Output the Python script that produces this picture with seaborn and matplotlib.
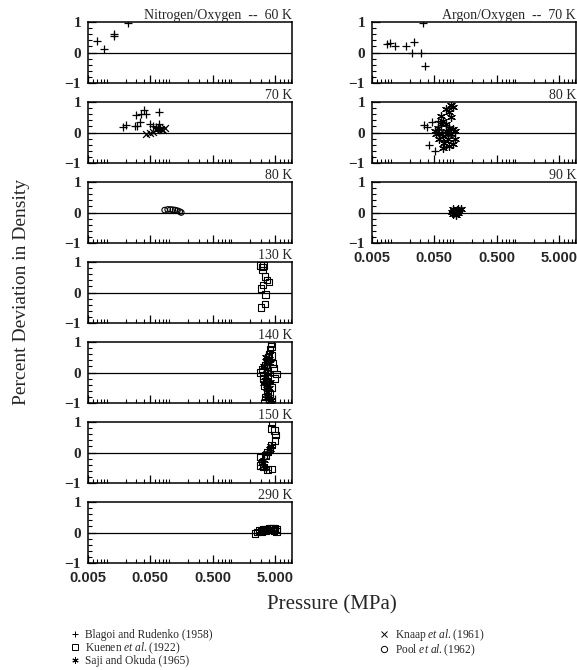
import numpy as np
import pandas as pd
import matplotlib
matplotlib.use('Agg')
import matplotlib.pyplot as plt
from matplotlib.lines import Line2D
from matplotlib.ticker import FixedLocator, LogLocator, NullFormatter, FixedFormatter
import seaborn as sns

sns.set_theme(style='white')
plt.rcParams['font.family'] = ['Liberation Serif', 'DejaVu Serif']
plt.rcParams['mathtext.fontset'] = 'custom'
plt.rcParams['mathtext.it'] = 'Liberation Serif:italic'
plt.rcParams['mathtext.rm'] = 'Liberation Serif'

sources = ['Blagoi and Rudenko (1958)', 'Kuenen $\\it{et\\ al.}$(1922)', 'Saji and Okuda (1965)',
           'Knaap $\\it{et\\ al.}$(1961)', 'Pool $\\it{et\\ al.}$(1962)']
BR, KU, SO, KN, PO = sources

# (system, temperature) panels, left column then right column
panels_left = ['60 K', '70 K', '80 K', '130 K', '140 K', '150 K', '290 K']
panels_right = ['70 K', '80 K', '90 K']

# --- Nitrogen/Oxygen ---
n60_br_p = [0.0069, 0.009, 0.013, 0.013, 0.022]
n60_br_d = [0.38, 0.11, 0.55, 0.60, 0.96]

n70_br_p = [0.0183, 0.0202, 0.0281, 0.0299, 0.031, 0.0337, 0.0359, 0.039, 0.0432, 0.0487, 0.0551, 0.0687, 0.0623, 0.0687]
n70_br_d = [0.19, 0.24, 0.20, 0.57, 0.22, 0.33, 0.60, 0.74, 0.60, 0.27, 0.20, 0.66, 0.17, 0.27]
n70_kn_p = [0.0432, 0.0487, 0.0551, 0.0623, 0.0748, 0.0845, 0.080]
n70_kn_d = [-0.05, -0.03, 0.02, 0.09, 0.11, 0.15, 0.09]
n70_so_p = [0.066, 0.071]
n70_so_d = [0.10, 0.13]

n80_po_p = [0.085, 0.095, 0.105, 0.115, 0.125, 0.136, 0.148, 0.157]
n80_po_d = [0.08, 0.10, 0.10, 0.09, 0.08, 0.06, 0.03, 0.00]

n130_ku_p = [2.94, 3.14, 3.30, 3.14, 3.45, 3.75, 4.00, 3.20, 3.00, 3.50, 3.45, 2.98]
n130_ku_d = [0.88, 0.83, 0.88, 0.74, 0.52, 0.41, 0.35, 0.24, 0.13, -0.06, -0.37, -0.50]

n140_ku_p = [4.3, 4.4, 4.2, 4.0, 3.9, 4.5, 3.7, 4.6, 3.5, 3.1, 2.95, 3.3, 5.3, 4.9, 3.6, 3.4,
             3.8, 4.1, 3.5, 4.0, 4.4, 3.2, 4.7, 3.9]
n140_ku_d = [0.95, 0.85, 0.75, 0.60, 0.50, 0.55, 0.40, 0.30, 0.25, 0.10, 0.00, -0.10, -0.05, -0.20, -0.30, -0.45,
             -0.60, -0.70, -0.80, -0.90, -0.50, -0.20, 0.15, 0.05]
n140_so_p = [3.6, 3.8, 3.4, 3.7, 3.9, 3.5, 3.6, 3.8, 4.0, 3.7, 3.9, 4.2, 4.4, 3.6, 4.1, 4.0, 3.3, 4.2]
n140_so_d = [0.50, 0.35, 0.20, 0.10, -0.05, -0.15, -0.25, -0.40, -0.50, -0.65, -0.80, -0.95, -0.90, -0.85, 0.30, 0.45, -0.35, -0.30]

n150_ku_p = [4.5, 4.4, 4.9, 5.1, 5.0, 4.4, 4.2, 3.8, 3.5, 2.9, 3.1, 2.9, 3.3, 4.5, 3.8]
n150_ku_d = [0.96, 0.78, 0.72, 0.57, 0.40, 0.24, 0.12, 0.01, -0.10, -0.15, -0.31, -0.42, -0.48, -0.54, -0.56]
n150_so_p = [4.3, 4.1, 3.8, 3.4, 3.1, 3.2, 3.6]
n150_so_d = [0.20, 0.10, -0.02, -0.25, -0.35, -0.45, -0.50]

n290_ku_p = [2.4, 2.6, 2.8, 3.0, 3.2, 3.4, 3.7, 4.0, 4.3, 4.6, 5.0, 5.4, 3.1, 3.6, 4.1, 4.8, 5.3]
n290_ku_d = [-0.03, 0.02, 0.06, 0.08, 0.10, 0.12, 0.12, 0.13, 0.14, 0.14, 0.13, 0.12, 0.03, 0.06, 0.08, 0.07, 0.04]
n290_so_p = [2.9, 3.3, 3.8, 4.2, 4.6]
n290_so_d = [0.05, 0.07, 0.09, 0.10, 0.10]

# --- Argon/Oxygen ---
a70_br_p = [0.0087, 0.0096, 0.0115, 0.0177, 0.024, 0.022, 0.0307, 0.0359, 0.0325]
a70_br_d = [0.28, 0.31, 0.22, 0.20, 0.33, -0.02, -0.02, -0.45, 0.97]

a80_br_p = [0.0346, 0.0377, 0.046, 0.058, 0.0406, 0.0506]
a80_br_d = [0.24, 0.19, 0.33, 0.37, -0.42, -0.61]
a80_so_p = [0.064, 0.0678, 0.077, 0.0857, 0.091, 0.098, 0.091, 0.0506, 0.0532, 0.060, 0.0678, 0.077,
            0.0857, 0.098, 0.106, 0.0815, 0.072, 0.0857, 0.098, 0.0678, 0.106, 0.058, 0.064, 0.077,
            0.091, 0.0815, 0.060]
a80_so_d = [0.55, 0.38, 0.77, 0.66, 0.90, 0.82, 0.50, 0.05, -0.06, 0.00, -0.11, 0.05,
            0.16, 0.11, 0.05, -0.22, -0.33, -0.44, -0.39, -0.50, -0.22, 0.16, 0.27, 0.27,
            -0.06, -0.06, -0.22]

a90_so_p = [0.095, 0.10, 0.105, 0.11, 0.115, 0.12, 0.125, 0.132, 0.10, 0.11, 0.12]
a90_so_d = [0.02, -0.04, 0.06, 0.00, 0.08, -0.03, 0.05, 0.12, 0.10, -0.08, 0.12]
a90_po_p = [0.097, 0.103, 0.108, 0.113, 0.118, 0.123]
a90_po_d = [0.00, 0.03, -0.02, 0.05, 0.01, 0.04]

rows = []
def add(system, temp, src, p, d):
    for pi, di in zip(p, d):
        rows.append((system, temp, src, pi, di))

add('N', '60 K', BR, n60_br_p, n60_br_d)
add('N', '70 K', BR, n70_br_p, n70_br_d)
add('N', '70 K', KN, n70_kn_p, n70_kn_d)
add('N', '70 K', SO, n70_so_p, n70_so_d)
add('N', '80 K', PO, n80_po_p, n80_po_d)
add('N', '130 K', KU, n130_ku_p, n130_ku_d)
add('N', '140 K', KU, n140_ku_p, n140_ku_d)
add('N', '140 K', SO, n140_so_p, n140_so_d)
add('N', '150 K', KU, n150_ku_p, n150_ku_d)
add('N', '150 K', SO, n150_so_p, n150_so_d)
add('N', '290 K', KU, n290_ku_p, n290_ku_d)
add('N', '290 K', SO, n290_so_p, n290_so_d)
add('A', '70 K', BR, a70_br_p, a70_br_d)
add('A', '80 K', BR, a80_br_p, a80_br_d)
add('A', '80 K', SO, a80_so_p, a80_so_d)
add('A', '90 K', SO, a90_so_p, a90_so_d)
add('A', '90 K', PO, a90_po_p, a90_po_d)
df = pd.DataFrame(rows, columns=['system', 'temp', 'source', 'pressure', 'deviation'])

asterisk = (6, 2, 0)
marker_style = {
    BR: dict(marker='+', s=30, linewidths=0.9),
    KU: dict(marker='s', s=22, facecolor='none', linewidths=0.8),
    SO: dict(marker=asterisk, s=32, linewidths=0.9),
    KN: dict(marker='x', s=24, linewidths=0.9),
    PO: dict(marker='o', s=16, facecolor='none', linewidths=0.8),
}

W, H = 577, 670
fig = plt.figure(figsize=(W / 100, H / 100), dpi=100)
tops = [22, 102, 182, 262, 342, 422, 502]
ph = 61

def make_ax(left_px, top_px):
    return fig.add_axes([left_px / W, 1 - (top_px + ph) / H, 204 / W, ph / H])

def style_ax(ax, title, show_x):
    ax.set_xscale('log')
    ax.set_xlim(0.005, 9.4)
    ax.set_ylim(-1, 1)
    ax.axhline(0, color='black', lw=0.9, zorder=1)
    ax.xaxis.set_major_locator(FixedLocator([0.005, 0.05, 0.5, 5]))
    ax.xaxis.set_minor_locator(LogLocator(base=10, subs=np.arange(1, 10)))
    ax.xaxis.set_minor_formatter(NullFormatter())
    if show_x:
        ax.xaxis.set_major_formatter(FixedFormatter(['0.005', '0.050', '0.500', '5.000']))
    else:
        ax.xaxis.set_major_formatter(NullFormatter())
    ax.yaxis.set_major_locator(FixedLocator([-1, 0, 1]))
    ax.yaxis.set_major_formatter(FixedFormatter(['\u22121', '0', '1']))
    ax.yaxis.set_minor_locator(FixedLocator(np.arange(-1, 1.01, 0.2)))
    ax.tick_params(axis='both', which='major', direction='in', length=6, width=0.9, color='black',
                   bottom=True, left=True, top=False, right=False)
    ax.tick_params(axis='both', which='minor', direction='in', length=3, width=0.8, color='black',
                   bottom=True, left=True, top=False, right=False)
    ax.tick_params(axis='x', which='major', pad=6)
    ax.tick_params(axis='y', which='major', pad=5)
    for lab in ax.get_xticklabels():
        lab.set_family('Liberation Sans')
        lab.set_fontweight('bold')
        lab.set_fontsize(10.5)
    for lab in ax.get_yticklabels():
        lab.set_fontweight('bold')
        lab.set_fontsize(11)
    for sp in ax.spines.values():
        sp.set_color('black')
        sp.set_linewidth(1.1)
    ax.set_title(title, loc='right', fontsize=10, pad=1.5)
    ax.set_xlabel('')
    ax.set_ylabel('')

def draw(ax, system, temp):
    sub = df[(df['system'] == system) & (df['temp'] == temp)]
    for src in sources:
        part = sub[sub['source'] == src]
        if len(part) == 0:
            continue
        sns.scatterplot(data=part, x='pressure', y='deviation', ax=ax, color='black',
                        edgecolor='black', legend=False, zorder=3, **marker_style[src])

for i, temp in enumerate(panels_left):
    ax = make_ax(88, tops[i])
    draw(ax, 'N', temp)
    title = 'Nitrogen/Oxygen  --  ' + temp if i == 0 else temp
    style_ax(ax, title, i == len(panels_left) - 1)

for i, temp in enumerate(panels_right):
    ax = make_ax(372, tops[i])
    draw(ax, 'A', temp)
    title = 'Argon/Oxygen  --  ' + temp if i == 0 else temp
    style_ax(ax, title, i == len(panels_right) - 1)

fig.text(22 / W, 1 - 292 / H, 'Percent Deviation in Density', rotation=90, ha='center', va='center', fontsize=14)
fig.text(332 / W, 1 - 605 / H, 'Pressure (MPa)', ha='center', va='center', fontsize=15)

handles = []
for src in sources:
    st = marker_style[src]
    mfc = 'none' if st.get('facecolor') == 'none' else 'black'
    handles.append(Line2D([], [], linestyle='none', marker=st['marker'], color='black',
                          markerfacecolor=mfc, markersize=4.5, markeredgewidth=0.7))
fig.legend(handles, sources, loc='upper left', bbox_to_anchor=(70 / W, 1 - 627 / H), ncol=2,
           frameon=False, fontsize=8.3, handlelength=0.8, handletextpad=0.5, columnspacing=14.5,
           labelspacing=-0.05, borderpad=0, borderaxespad=0)

fig.savefig('out.png', dpi=100)
